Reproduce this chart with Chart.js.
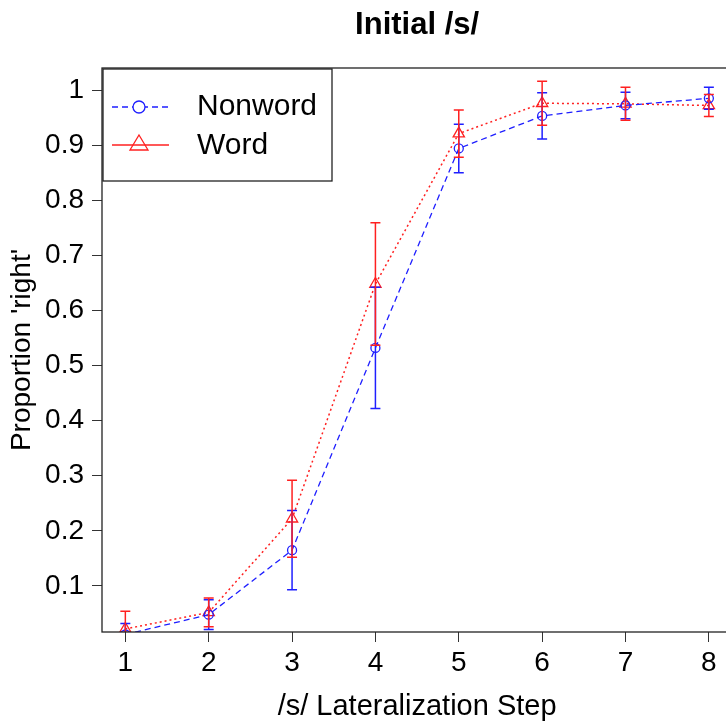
<!DOCTYPE html>
<html>
<head>
<meta charset="utf-8">
<script src="https://cdn.jsdelivr.net/npm/chart.js@4.4.1/dist/chart.umd.min.js"></script>
<style>
  html, body { margin: 0; padding: 0; background: #fff; overflow: hidden; }
  #wrap { width: 740px; height: 724px; }
</style>
</head>
<body>
<div id="wrap"><canvas id="chart" width="740" height="724"></canvas></div>
<script>
'use strict';

const steps        = [1, 2, 3, 4, 5, 6, 7, 8];
const nonwordMean  = [0.012, 0.048, 0.165, 0.532, 0.894, 0.953, 0.972, 0.985];
const nonwordErr   = [0.020, 0.027, 0.072, 0.110, 0.044, 0.042, 0.024, 0.020];
const wordMean     = [0.022, 0.052, 0.222, 0.648, 0.921, 0.976, 0.975, 0.972];
const wordErr      = [0.032, 0.026, 0.070, 0.111, 0.043, 0.040, 0.030, 0.020];
const yTicks       = [0.1, 0.2, 0.3, 0.4, 0.5, 0.6, 0.7, 0.8, 0.9, 1];

const FONT = "'Liberation Sans', Arial, sans-serif";
const BLUE = '#1f1fff';
const RED  = '#ff2020';

const toPoints = arr => steps.map((s, i) => ({ x: s, y: arr[i] }));

// error bars, drawn through the chart's own scales
const errorBars = {
  id: 'errorBars',
  afterDatasetsDraw(chart) {
    const { ctx, chartArea: a, scales: { x, y } } = chart;
    const sets = [
      { mean: nonwordMean, err: nonwordErr, color: BLUE },
      { mean: wordMean,    err: wordErr,    color: RED }
    ];
    ctx.save();
    ctx.beginPath();
    ctx.rect(a.left, a.top, a.right - a.left, a.bottom - a.top);
    ctx.clip();
    ctx.lineWidth = 1.5;
    sets.forEach(s => {
      ctx.strokeStyle = s.color;
      steps.forEach((st, i) => {
        const px = x.getPixelForValue(st);
        const hi = y.getPixelForValue(s.mean[i] + s.err[i]);
        const lo = y.getPixelForValue(s.mean[i] - s.err[i]);
        ctx.beginPath();
        ctx.moveTo(px, hi); ctx.lineTo(px, lo);
        ctx.moveTo(px - 5, hi); ctx.lineTo(px + 5, hi);
        ctx.moveTo(px - 5, lo); ctx.lineTo(px + 5, lo);
        ctx.stroke();
      });
    });
    ctx.restore();
  }
};

// plot box, title and legend
const frame = {
  id: 'frame',
  afterDraw(chart) {
    const { ctx, chartArea: a } = chart;
    ctx.save();
    ctx.strokeStyle = '#222';
    ctx.lineWidth = 1.3;
    ctx.strokeRect(a.left, a.top, a.right - a.left, a.bottom - a.top);

    ctx.fillStyle = '#000';
    ctx.textAlign = 'center';
    ctx.textBaseline = 'middle';
    ctx.font = 'bold 31px ' + FONT;
    ctx.fillText('Initial /s/', (a.left + a.right) / 2, 25);

    // legend
    const lx = a.left + 1, ly = a.top + 1, lw = 229, lh = 112;
    ctx.fillStyle = '#fff';
    ctx.fillRect(lx, ly, lw, lh);
    ctx.strokeRect(lx, ly, lw, lh);

    ctx.lineWidth = 1.3;
    ctx.strokeStyle = BLUE;
    ctx.setLineDash([6, 4]);
    ctx.beginPath(); ctx.moveTo(lx + 9, ly + 38); ctx.lineTo(lx + 66, ly + 38); ctx.stroke();
    ctx.setLineDash([]);
    ctx.fillStyle = '#fff';
    ctx.beginPath(); ctx.arc(lx + 36, ly + 38, 6, 0, Math.PI * 2); ctx.fill(); ctx.stroke();

    ctx.strokeStyle = RED;
    ctx.beginPath(); ctx.moveTo(lx + 9, ly + 76); ctx.lineTo(lx + 66, ly + 76); ctx.stroke();
    ctx.beginPath();
    ctx.moveTo(lx + 36, ly + 66);
    ctx.lineTo(lx + 45, ly + 81);
    ctx.lineTo(lx + 27, ly + 81);
    ctx.closePath();
    ctx.stroke();

    ctx.fillStyle = '#000';
    ctx.textAlign = 'left';
    ctx.font = '30px ' + FONT;
    ctx.fillText('Nonword', lx + 94, ly + 38);
    ctx.fillText('Word', lx + 94, ly + 77);
    ctx.restore();
  }
};

new Chart(document.getElementById('chart'), {
  type: 'line',
  data: {
    datasets: [
      {
        label: 'Nonword',
        data: toPoints(nonwordMean),
        borderColor: BLUE,
        backgroundColor: 'transparent',
        borderWidth: 1.3,
        borderDash: [6, 4],
        tension: 0,
        pointStyle: 'circle',
        pointRadius: 4.5,
        pointBorderColor: BLUE,
        pointBackgroundColor: 'transparent',
        pointBorderWidth: 1.3
      },
      {
        label: 'Word',
        data: toPoints(wordMean),
        borderColor: RED,
        backgroundColor: 'transparent',
        borderWidth: 1.5,
        borderDash: [2, 3],
        tension: 0,
        pointStyle: 'triangle',
        pointRadius: 6.5,
        pointBorderColor: RED,
        pointBackgroundColor: 'transparent',
        pointBorderWidth: 1.3
      }
    ]
  },
  options: {
    responsive: false,
    animation: false,
    events: [],
    layout: { padding: { top: 68, right: 7, bottom: 0, left: 0 } },
    plugins: { legend: { display: false }, title: { display: false }, tooltip: { enabled: false } },
    scales: {
      x: {
        type: 'linear',
        min: 0.72,
        max: 8.28,
        afterBuildTicks: s => { s.ticks = steps.map(v => ({ value: v })); },
        afterFit: s => { s.height = 92; },
        ticks: { color: '#000', font: { family: FONT, size: 28 }, padding: 4, maxRotation: 0 },
        grid: { drawOnChartArea: false, drawTicks: true, tickLength: 10, color: '#333' },
        border: { display: false },
        title: { display: true, text: '/s/ Lateralization Step', color: '#000', font: { family: FONT, size: 29 }, padding: { top: 0, bottom: 0 } }
      },
      y: {
        min: 0.0165,
        max: 1.04,
        afterBuildTicks: s => { s.ticks = yTicks.map(v => ({ value: v })); },
        afterFit: s => { s.width = 102; },
        ticks: { color: '#000', font: { family: FONT, size: 28 }, padding: 8, callback: v => String(v) },
        grid: { drawOnChartArea: false, drawTicks: true, tickLength: 10, color: '#333' },
        border: { display: false },
        title: { display: true, text: "Proportion 'right'", color: '#000', font: { family: FONT, size: 28 }, padding: { top: 5, bottom: 0 } }
      }
    }
  },
  plugins: [errorBars, frame]
});
</script>
</body>
</html>
